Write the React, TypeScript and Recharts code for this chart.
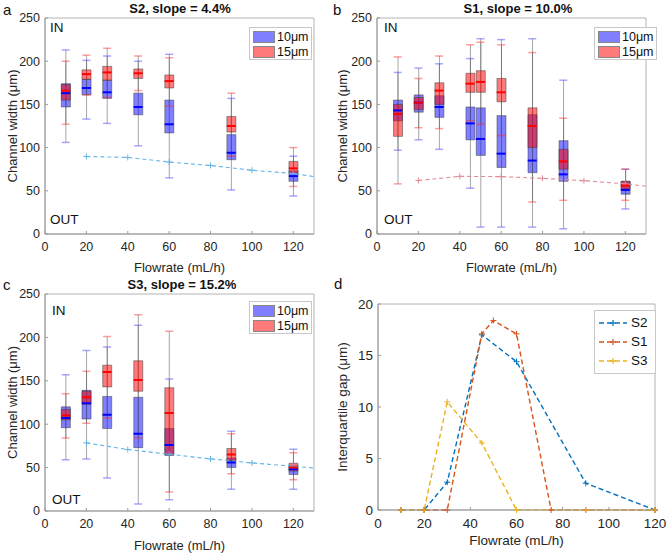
import React from 'react';
import { ComposedChart, LineChart, Line, Bar, Scatter, XAxis, YAxis, ReferenceArea } from 'recharts';

const FONT = "'Liberation Sans', Arial, Helvetica, sans-serif";

// box stats per flowrate: [low whisker, q1, median, q3, high whisker]
const flowA = [10, 20, 30, 45, 60, 90, 120];
const aBlue = [[106, 147, 163, 174, 213], [133, 161, 169, 179, 201], [128, 157, 164, 178, 206], [102, 138, 147, 163, 200], [65, 117, 127, 155, 208], [51, 86, 94, 115, 157], [44, 61, 67, 73, 90]];
const aRed = [[127, 155, 166, 173, 200], [161, 179, 185, 190, 207], [158, 178, 187, 194, 215], [166, 180, 186, 191, 206], [148, 169, 177, 184, 204], [90, 118, 125, 136, 163], [55, 70, 76, 84, 100]];
const aLineX = [20, 40, 60, 80, 100, 120, 130];
const aLineY = [89.7, 88.6, 83.3, 79.3, 73.8, 70, 66.5];

const flowB = [10, 20, 30, 45, 50, 60, 75, 90, 120];
const bBlue = [[97, 131, 143, 155, 187], [109, 141, 152, 161, 192], [98, 135, 147, 160, 197], [53, 109, 128, 147, 203], [8, 91, 110, 146, 226], [8, 77, 93, 137, 225], [8, 71, 85, 138, 226], [6, 61, 69, 108, 178], [29, 46, 51, 61, 75]];
const bRed = [[58, 113, 139, 150, 205], [123, 144, 152, 158, 180], [122, 150, 166, 175, 206], [131, 164, 174, 186, 219], [127, 164, 176, 189, 222], [114, 153, 164, 180, 219], [37, 100, 125, 146, 210], [39, 75, 84, 98, 134], [39, 52, 56, 61, 75]];
const bLineX = [20, 40, 60, 80, 100, 120, 130];
const bLineY = [62, 66.7, 66.4, 64.4, 61.7, 58, 55.2];

const flowC = [10, 20, 30, 45, 60, 90, 120];
const cBlue = [[59, 96, 107, 120, 157], [60, 106, 124, 139, 185], [38, 95, 111, 132, 189], [8, 73, 89, 131, 214], [13, 64, 76, 95, 152], [25, 50, 56, 61, 92], [25, 42, 48, 52, 71]];
const cRed = [[84, 105, 110, 117, 135], [101, 123, 131, 138, 161], [107, 143, 160, 168, 201], [84, 138, 151, 173, 226], [22, 65, 113, 142, 207], [43, 58, 65, 72, 89], [36, 46, 50, 55, 67]];
const cLineX = [20, 40, 60, 80, 100, 120, 130];
const cLineY = [78.5, 70.8, 65.4, 60, 55.4, 51.5, 49.6];

const gapX2 = [10, 20, 30, 45, 60, 90, 120];
const gapY2 = [0, 0, 2.7, 17, 14.4, 2.6, 0];
const gapX1 = [10, 20, 30, 45, 50, 60, 75, 90, 120];
const gapY1 = [0, 0, 0, 17.1, 18.4, 17.1, 0, 0, 0];
const gapX3 = [10, 20, 30, 45, 60, 90, 120];
const gapY3 = [0, 0, 10.5, 6.5, 0, 0, 0];

const xTicks = [0, 20, 40, 60, 80, 100, 120];
const yTicks = [0, 50, 100, 150, 200, 250];
const gapTicks = [0, 5, 10, 15, 20];

const BLUE_FILL = 'rgba(0,0,255,0.5)';
const RED_FILL = 'rgba(255,0,0,0.52)';

const toRows = (flows: number[], blue: number[][], red: number[][]) =>
  flows.map((x, i) => ({
    x,
    bLo: blue[i][0], bQ1: blue[i][1], bMed: blue[i][2], bQ3: blue[i][3], bHi: blue[i][4],
    rLo: red[i][0], rQ1: red[i][1], rMed: red[i][2], rQ3: red[i][3], rHi: red[i][4],
  }));

const toPts = (xs: number[], ys: number[]) => xs.map((x, i) => ({ x, y: ys[i] }));

const hLine = (color: string, half: number, sw: number) => (p: any) =>
  p.cx == null ? <g /> : <line x1={p.cx - half} x2={p.cx + half} y1={p.cy} y2={p.cy} stroke={color} strokeWidth={sw} />;

const plusDot = (color: string, maxX: number) => (p: any) => {
  if (p.cx == null || p.payload.x > maxX) return <g key={p.index} />;
  return (
    <g key={p.index}>
      <line x1={p.cx - 3} x2={p.cx + 3} y1={p.cy} y2={p.cy} stroke={color} strokeWidth={1} />
      <line x1={p.cx} x2={p.cx} y1={p.cy - 3} y2={p.cy + 3} stroke={color} strokeWidth={1} />
    </g>
  );
};

const tickStyle = { fontSize: 12.5, fill: '#262626', fontFamily: FONT };
const labelStyle = { fontSize: 13, fill: '#262626', fontFamily: FONT };
const dTickStyle = { fontSize: 13.5, fill: '#262626', fontFamily: FONT };
const dLabelStyle = { fontSize: 13.5, fill: '#262626', fontFamily: FONT };

const txt = (s: string, left: number, top: number, size: number, extra: any = {}) => (
  <div style={{ position: 'absolute', left, top, fontSize: size, fontFamily: FONT, color: '#111', lineHeight: 1, whiteSpace: 'nowrap', ...extra }}>{s}</div>
);

const BoxLegend = ({ left, top }: { left: number; top: number }) => (
  <div style={{ position: 'absolute', left, top, width: 61, height: 31, border: '1px solid #c8c8c8', background: '#fff', fontFamily: FONT, fontSize: 12.5, color: '#111' }}>
    {[['10μm', BLUE_FILL], ['15μm', RED_FILL]].map(([t, c], i) => (
      <div key={t} style={{ position: 'absolute', left: 3, top: 2 + i * 14.5, display: 'flex', alignItems: 'center' }}>
        <span style={{ display: 'inline-block', width: 20, height: 10, background: c, border: '1px solid #888', marginRight: 2 }} />
        <span>{t}</span>
      </div>
    ))}
  </div>
);

type BoxProps = {
  left: number; top: number; width: number; height: number;
  margin: { top: number; right: number; left: number; bottom: number };
  yw: number; xh: number; rows: any[]; line: any[]; lineColor: string;
};

const BoxChart = ({ left, top, width, height, margin, yw, xh, rows, line, lineColor }: BoxProps) => {
  const hidden = ['wb', 'wr', 'bb', 'br'];
  return (
    <div style={{ position: 'absolute', left, top }}>
      <ComposedChart width={width} height={height} data={rows} margin={margin}>
        <XAxis type="number" dataKey="x" domain={[0, 130]} ticks={xTicks} allowDataOverflow
          height={xh} stroke="#9a9a9a" tick={tickStyle} tickSize={-3} tickMargin={11}
          label={{ value: 'Flowrate (mL/h)', position: 'insideBottom', offset: 3, style: labelStyle }} />
        {hidden.map((id) => (
          <XAxis key={id} xAxisId={id} type="number" dataKey="x" domain={[0, 130]} allowDataOverflow hide height={0} orientation="top" />
        ))}
        <YAxis type="number" domain={[0, 250]} ticks={yTicks} width={yw} stroke="#9a9a9a" tick={tickStyle}
          tickSize={-3} tickMargin={8}
          label={{ value: 'Channel width (μm)', angle: -90, position: 'insideLeft', offset: 12, style: { ...labelStyle, textAnchor: 'middle' } }} />
        <ReferenceArea x1={0} x2={130} y1={0} y2={250} fill="none" stroke="#b4b4b4" strokeWidth={1} />
        <Line data={line} dataKey="y" type="linear" stroke={lineColor} strokeWidth={1.1} strokeDasharray="4 3"
          dot={plusDot(lineColor, 120)} isAnimationActive={false} />
        <Bar xAxisId="wb" dataKey={(d: any) => [d.bLo, d.bHi]} barSize={1} fill="rgba(80,80,80,0.5)" isAnimationActive={false} />
        <Bar xAxisId="bb" dataKey={(d: any) => [d.bQ1, d.bQ3]} barSize={9} fill={BLUE_FILL} stroke="rgba(60,60,60,0.5)" isAnimationActive={false} />
        <Scatter dataKey="bMed" shape={hLine('#0000ff', 4.5, 2)} isAnimationActive={false} />
        <Scatter dataKey="bLo" shape={hLine('rgba(60,60,255,0.45)', 4, 1.5)} isAnimationActive={false} />
        <Scatter dataKey="bHi" shape={hLine('rgba(60,60,255,0.45)', 4, 1.5)} isAnimationActive={false} />
        <Bar xAxisId="wr" dataKey={(d: any) => [d.rLo, d.rHi]} barSize={1} fill="rgba(80,80,80,0.5)" isAnimationActive={false} />
        <Bar xAxisId="br" dataKey={(d: any) => [d.rQ1, d.rQ3]} barSize={9} fill={RED_FILL} stroke="rgba(60,60,60,0.5)" isAnimationActive={false} />
        <Scatter dataKey="rMed" shape={hLine('#ff0000', 4.5, 2)} isAnimationActive={false} />
        <Scatter dataKey="rLo" shape={hLine('rgba(255,40,40,0.45)', 4, 1.5)} isAnimationActive={false} />
        <Scatter dataKey="rHi" shape={hLine('rgba(255,40,40,0.45)', 4, 1.5)} isAnimationActive={false} />
      </ComposedChart>
    </div>
  );
};

const GapChart = () => {
  const series = [
    { name: 'S2', color: '#0072BD', data: toPts(gapX2, gapY2) },
    { name: 'S1', color: '#D95319', data: toPts(gapX1, gapY1) },
    { name: 'S3', color: '#EDB120', data: toPts(gapX3, gapY3) },
  ];
  return (
    <div style={{ position: 'absolute', left: 330, top: 275 }}>
      <LineChart width={337} height={278} margin={{ top: 29, right: 12, left: 0, bottom: 0 }}>
        <XAxis type="number" dataKey="x" domain={[0, 120]} ticks={xTicks} height={43} stroke="#9a9a9a" tick={dTickStyle}
          tickSize={-3} tickMargin={11}
          label={{ value: 'Flowrate (mL/h)', position: 'insideBottom', offset: 8, style: dLabelStyle }} />
        <YAxis type="number" domain={[0, 20]} ticks={gapTicks} width={48} stroke="#9a9a9a" tick={dTickStyle}
          tickSize={-3} tickMargin={8}
          label={{ value: 'Interquartile gap (μm)', angle: -90, position: 'insideLeft', offset: 12, style: { ...dLabelStyle, textAnchor: 'middle' } }} />
        <ReferenceArea x1={0} x2={120} y1={0} y2={20} fill="none" stroke="#b4b4b4" strokeWidth={1} />
        {series.map((s) => (
          <Line key={s.name} data={s.data} dataKey="y" type="linear" stroke={s.color} strokeWidth={1.4}
            strokeDasharray="5 3" dot={plusDot(s.color, 200)} isAnimationActive={false} />
        ))}
      </LineChart>
      <div style={{ position: 'absolute', left: 264, top: 35, width: 60, height: 62, border: '1px solid #c8c8c8', background: '#fff', fontFamily: FONT, fontSize: 13.5, color: '#111' }}>
        {series.map((s, i) => (
          <div key={s.name} style={{ position: 'absolute', left: 3, top: 4 + i * 19, display: 'flex', alignItems: 'center' }}>
            <svg width={30} height={12} style={{ marginRight: 3 }}>
              <line x1={1} x2={29} y1={6} y2={6} stroke={s.color} strokeWidth={1.4} strokeDasharray="5 3" />
              <line x1={12} x2={18} y1={6} y2={6} stroke={s.color} strokeWidth={1.2} />
              <line x1={15} x2={15} y1={3} y2={9} stroke={s.color} strokeWidth={1.2} />
            </svg>
            <span>{s.name}</span>
          </div>
        ))}
      </div>
    </div>
  );
};

const App = () => {
  const rowsA = toRows(flowA, aBlue, aRed);
  const rowsB = toRows(flowB, bBlue, bRed);
  const rowsC = toRows(flowC, cBlue, cRed);
  return (
    <div style={{ position: 'absolute', left: 0, top: 0, width: 667, height: 553, background: '#fff', overflow: 'hidden' }}>
      <BoxChart left={0} top={0} width={330} height={275} margin={{ top: 18, right: 16, left: 0, bottom: 0 }} yw={45} xh={41}
        rows={rowsA} line={toPts(aLineX, aLineY)} lineColor="#63b3e6" />
      <BoxChart left={330} top={0} width={337} height={275} margin={{ top: 18, right: 21, left: 0, bottom: 0 }} yw={47} xh={41}
        rows={rowsB} line={toPts(bLineX, bLineY)} lineColor="#e08a96" />
      <BoxChart left={0} top={275} width={330} height={278} margin={{ top: 19, right: 16, left: 0, bottom: 0 }} yw={45} xh={42}
        rows={rowsC} line={toPts(cLineX, cLineY)} lineColor="#63b3e6" />
      <GapChart />

      {txt('a', 3, 2, 15)}
      {txt('b', 333, 2, 15)}
      {txt('c', 3, 277, 15)}
      {txt('d', 334, 276, 15)}
      {txt('S2, slope = 4.4%', 180, 2, 13, { fontWeight: 'bold', transform: 'translateX(-50%)' })}
      {txt('S1, slope = 10.0%', 518, 2, 13, { fontWeight: 'bold', transform: 'translateX(-50%)' })}
      {txt('S3, slope = 15.2%', 182, 278, 13, { fontWeight: 'bold', transform: 'translateX(-50%)' })}
      {txt('IN', 50, 21, 13.5)}
      {txt('OUT', 50, 213, 13.5)}
      {txt('IN', 384, 21, 13.5)}
      {txt('OUT', 384, 213, 13.5)}
      {txt('IN', 52, 304, 13.5)}
      {txt('OUT', 52, 493, 13.5)}
      <BoxLegend left={249} top={27} />
      <BoxLegend left={594} top={27} />
      <BoxLegend left={249} top={301} />
    </div>
  );
};

export default App;
